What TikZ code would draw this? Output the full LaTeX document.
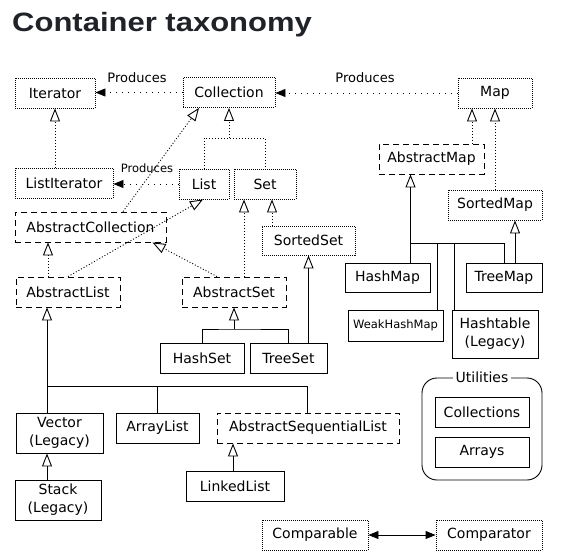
\documentclass[tikz,border=0pt]{standalone}
\usepackage{graphicx}
\usepackage{fontspec}
\newfontfamily\dv{DejaVu Sans}
\newfontfamily\ttlfont{Liberation Sans}
\usetikzlibrary{arrows.meta,calc}
\definecolor{titlecol}{HTML}{1F2328}
\begin{document}
\begin{tikzpicture}[x=1pt,y=-1pt,
  basebox/.style={line width=0.9pt, inner sep=0pt, minimum height=30pt, font=\dv\fontsize{14}{18}\selectfont, align=center, fill=white},
  iface/.style={basebox, draw, dash pattern=on 1pt off 1pt},
  abst/.style={basebox, draw, dash pattern=on 6pt off 4pt},
  impl/.style={basebox, draw},
  dotl/.style={line width=0.9pt, dash pattern=on 1pt off 2pt},
  solidl/.style={line width=0.9pt},
  prodl/.style={line width=0.9pt, dash pattern=on 1pt off 5pt, -{Triangle[length=10pt,width=8pt]}},
  inhtip/.style={-{Triangle[open,length=13pt,width=10pt,line width=0.9pt]}},
  lbl/.style={inner sep=0pt, font=\dv\fontsize{13}{15}\selectfont}
]
\useasboundingbox[fill=white] (0,0) rectangle (561,559);

% title
\node[anchor=base west, inner sep=0pt, text=titlecol, font=\ttlfont\bfseries\fontsize{26.5}{30}\selectfont] (title) at (12,32) {\scalebox{1.17}[1]{Container taxonomy}};

% connectors drawn first (boxes are filled white)
\coordinate (lsj) at (229,138);
\coordinate (asj) at (234,329);
\coordinate (mj) at (410.5,243);
\coordinate (lj) at (47,386);

% nodes
\node[iface, minimum width=80pt] (Iterator) at (55,93) {Iterator};
\node[iface, minimum width=92pt] (Collection) at (229,92.5) {Collection};
\node[iface, minimum width=74pt] (Map) at (495,93) {Map};
\node[iface, minimum width=98pt] (ListIterator) at (64,183) {ListIterator};
\node[iface, minimum width=50pt] (List) at (204,184) {List};
\node[iface, minimum width=62pt] (Set) at (265,184) {Set};
\node[abst, minimum width=151pt, fill=none] (AbstractCollection) at (90.5,227) {AbstractCollection};
\node[abst, minimum width=104pt] (AbstractList) at (68,292) {AbstractList};
\node[abst, minimum width=104pt] (AbstractSet) at (234,292) {AbstractSet};
\node[iface, minimum width=93pt, minimum height=29pt] (SortedSet) at (308.5,240.5) {SortedSet};
\node[impl, minimum width=84pt] (HashSet) at (202,358) {HashSet};
\node[impl, minimum width=77pt] (TreeSet) at (288.5,358) {TreeSet};
\node[abst, minimum width=105pt] (AbstractMap) at (431.5,159) {AbstractMap};
\node[iface, minimum width=94pt] (SortedMap) at (495,205) {SortedMap};
\node[impl, minimum width=85pt, minimum height=29pt] (HashMap) at (387.5,277.5) {HashMap};
\node[impl, minimum width=76pt, minimum height=29pt] (TreeMap) at (504,277.5) {TreeMap};
\node[impl, minimum width=95pt, minimum height=31pt, font=\dv\fontsize{11.5}{14}\selectfont] (WeakHashMap) at (395.5,325.5) {WeakHashMap};
\node[impl, minimum width=86pt, minimum height=48pt] (Hashtable) at (495,334) {Hashtable\\(Legacy)};
\node[impl, minimum width=87pt, minimum height=40pt] (Vector) at (59.5,433) {Vector\\(Legacy)};
\node[impl, minimum width=83pt] (ArrayList) at (157.5,428) {ArrayList};
\node[abst, minimum width=182pt] (ASL) at (308,428) {AbstractSequentialList};
\node[impl, minimum width=86pt, minimum height=40pt] (Stack) at (58,500) {Stack\\(Legacy)};
\node[impl, minimum width=98pt] (LinkedList) at (235,486) {LinkedList};
\node[iface, minimum width=106pt] (Comparable) at (315,535) {Comparable};
\node[iface, minimum width=106pt] (Comparator) at (489,535) {Comparator};

% utilities group
\node[draw, line width=0.9pt, rounded corners=15pt, minimum width=120pt, minimum height=102pt] (Utilities) at (482,429) {};
\node[fill=white, inner sep=3pt, font=\dv\fontsize{14}{16}\selectfont] (UtilLabel) at (Utilities.north) {Utilities};
\node[impl, minimum width=94pt] (Collections) at (482,412) {Collections};
\node[impl, minimum width=94pt] (Arrays) at (482,452) {Arrays};

% Produces
\draw[prodl] (Collection.west) -- (Iterator.east |- Collection.west);
\draw[prodl] (Map.west) -- (Collection.east |- Map.west);
\draw[prodl] (List.west) -- (ListIterator.east |- List.west);
\node[lbl] (p1) at (137,78) {Produces};
\node[lbl] (p2) at (365,78) {Produces};
\node[lbl, font=\dv\fontsize{11.5}{14}\selectfont] (p3) at (147,168) {Produces};

% interface inheritance
\draw[dotl, inhtip] (ListIterator.north -| Iterator.south) -- (Iterator.south);
\draw[dotl] (List.north) |- (lsj) -| (Set.north);
\draw[dotl, inhtip] (lsj) -- (Collection.south);
\draw[dotl, inhtip] ([xshift=32.5pt]AbstractCollection.north) -- ([xshift=-30pt]Collection.south);
\draw[dotl, inhtip] (AbstractList.north) -- ([xshift=-1pt]List.south);
\coordinate (alt) at ([xshift=-20pt]AbstractList.north);
\draw[dotl, inhtip] (alt) -- (alt |- AbstractCollection.south);
\draw[dotl, inhtip] ([xshift=-17pt]AbstractSet.north) -- ([xshift=62pt]AbstractCollection.south);
\draw[dotl, inhtip] ([xshift=10pt]AbstractSet.north) -- ([xshift=-21pt]Set.south);
\draw[dotl, inhtip] ([xshift=-36.5pt]SortedSet.north) -- ([xshift=7pt]Set.south);

% sets
\draw[solidl, inhtip] ([xshift=20pt]TreeSet.north) -- (SortedSet.south);
\draw[solidl] (HashSet.north) |- (asj) -| (TreeSet.north);
\draw[solidl, inhtip] (asj) -- (AbstractSet.south);

% maps
\draw[dotl, inhtip] ([xshift=40.5pt]AbstractMap.north) -- ([xshift=-23pt]Map.south);
\draw[dotl, inhtip] (SortedMap.north) -- (Map.south);
\draw[solidl, inhtip] ([xshift=23pt]HashMap.north) -- ([xshift=-21pt]AbstractMap.south);
\draw[solidl] (mj) -| (TreeMap.north);
\coordinate (wt) at ([xshift=41.5pt]WeakHashMap.north);
\coordinate (ht) at ([xshift=-41pt]Hashtable.north);
\draw[solidl] (wt) -- (wt |- mj);
\draw[solidl] (ht) -- (ht |- mj);
\draw[solidl, inhtip] ([xshift=11pt]TreeMap.north) -- ([xshift=20pt]SortedMap.south);

% lists
\draw[solidl, inhtip] ([xshift=-12.5pt]Vector.north) -- ([xshift=-21pt]AbstractList.south);
\draw[solidl] (lj) -| ([xshift=-1pt]ASL.north);
\draw[solidl] (ArrayList.north) -- (ArrayList.north |- lj);
\draw[solidl, inhtip] ([xshift=-11pt]Stack.north) -- ([xshift=-12.5pt]Vector.south);
\draw[solidl, inhtip] ([xshift=-2pt]LinkedList.north) -- ([xshift=-75pt]ASL.south);

% comparable <-> comparator
\draw[solidl, {Triangle[length=10pt,width=8pt]}-{Triangle[length=10pt,width=8pt]}] (Comparable.east) -- (Comparator.west);
\end{tikzpicture}
\end{document}
